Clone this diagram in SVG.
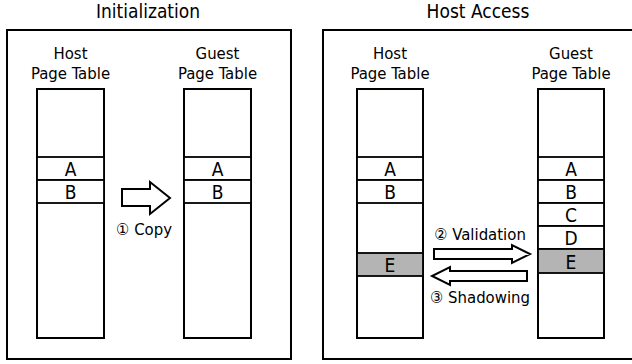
<svg xmlns="http://www.w3.org/2000/svg" width="632" height="364" viewBox="0 0 632 364">
<style>
text{font-family:"DejaVu Sans Condensed","DejaVu Sans","Noto Sans CJK JP",sans-serif;fill:#000;text-anchor:middle}
.title{font-size:19px}
.lbl{font-size:16.6px}
.cell{font-size:19px}
.frame{fill:#fff;stroke:#000;stroke-width:2}
.tbl{fill:#fff;stroke:#000;stroke-width:2}
.row{fill:#fff;stroke:#000;stroke-width:1.8}
.gray{fill:#b4b4b4;stroke:#000;stroke-width:1.8}
.arrow{fill:#fff;stroke:#000;stroke-width:2;stroke-linejoin:miter}
</style>
<rect width="632" height="364" fill="#fff"/>
<g id="panel-init">
<text class="title" x="148" y="18">Initialization</text>
<rect class="frame" x="7" y="30" width="284" height="329"/>
</g>
<g id="panel-access">
<text class="title" x="478" y="18">Host Access</text>
<rect class="frame" x="323" y="30" width="320" height="329"/>
</g>
<g id="init-host">
<text class="lbl" x="70.5" y="59">Host</text>
<text class="lbl" x="70.5" y="79">Page Table</text>
<rect class="tbl" x="37" y="89" width="67" height="249"/>
<rect class="row" x="37" y="157" width="67" height="23"/>
<rect class="row" x="37" y="180" width="67" height="23"/>
<text class="cell" x="70.5" y="176">A</text>
<text class="cell" x="70.5" y="199">B</text>
</g>
<g id="init-guest">
<text class="lbl" x="217.5" y="59">Guest</text>
<text class="lbl" x="217.5" y="79">Page Table</text>
<rect class="tbl" x="184" y="89" width="67" height="249"/>
<rect class="row" x="184" y="157" width="67" height="23"/>
<rect class="row" x="184" y="180" width="67" height="23"/>
<text class="cell" x="217.5" y="176">A</text>
<text class="cell" x="217.5" y="199">B</text>
</g>
<g id="access-host">
<text class="lbl" x="390" y="59">Host</text>
<text class="lbl" x="390" y="79">Page Table</text>
<rect class="tbl" x="357" y="89" width="66" height="249"/>
<rect class="row" x="357" y="157" width="66" height="23"/>
<rect class="row" x="357" y="180" width="66" height="23"/>
<rect class="gray" x="357" y="253" width="66" height="23"/>
<text class="cell" x="390" y="176">A</text>
<text class="cell" x="390" y="199">B</text>
<text class="cell" x="390" y="272">E</text>
</g>
<g id="access-guest">
<text class="lbl" x="571" y="59">Guest</text>
<text class="lbl" x="571" y="79">Page Table</text>
<rect class="tbl" x="538" y="89" width="66" height="249"/>
<rect class="row" x="538" y="157" width="66" height="23"/>
<rect class="row" x="538" y="180" width="66" height="23"/>
<rect class="row" x="538" y="203" width="66" height="23"/>
<rect class="row" x="538" y="226" width="66" height="23"/>
<rect class="gray" x="538" y="249" width="66" height="24"/>
<text class="cell" x="571" y="176">A</text>
<text class="cell" x="571" y="199">B</text>
<text class="cell" x="571" y="222">C</text>
<text class="cell" x="571" y="245">D</text>
<text class="cell" x="571" y="268.5">E</text>
</g>
<g id="connectors">
<polygon class="arrow" points="122,189 150,189 150,182 170,198 150,214 150,206 122,206"/>
<text class="lbl" x="144" y="235">① Copy</text>
<polygon class="arrow" points="434,249 512,249 512,245 530,254 512,263 512,259 434,259"/>
<text class="lbl" x="480" y="240">② Validation</text>
<polygon class="arrow" points="527,271 450,271 450,267 432,276 450,285 450,281 527,281"/>
<text class="lbl" x="480" y="303">③ Shadowing</text>
</g>
</svg>
